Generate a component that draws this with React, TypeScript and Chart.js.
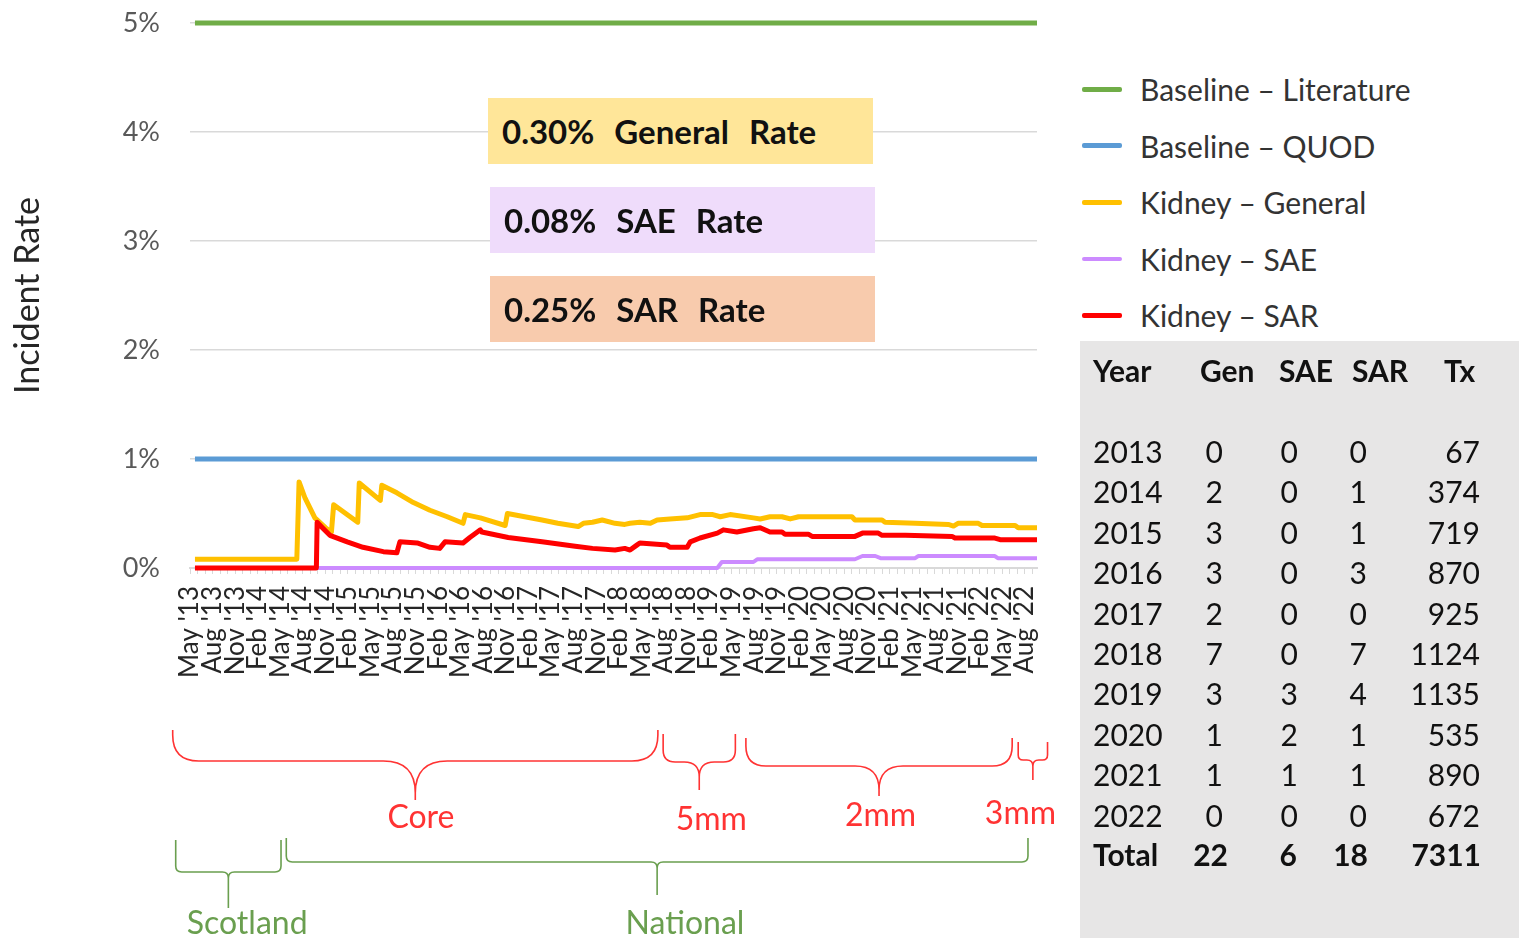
import React, { useEffect, useRef } from "react";
import { Chart, registerables } from "chart.js";

Chart.register(...registerables);

const FONT = "Lato, 'Open Sans', sans-serif";

// ---------- data ----------
// x = months since 1 May 2013
const quarterLabels = [
  "May '13", "Aug '13", "Nov '13",
  "Feb '14", "May '14", "Aug '14", "Nov '14",
  "Feb '15", "May '15", "Aug '15", "Nov '15",
  "Feb '16", "May '16", "Aug '16", "Nov '16",
  "Feb '17", "May '17", "Aug '17", "Nov '17",
  "Feb '18", "May '18", "Aug '18", "Nov '18",
  "Feb '19", "May '19", "Aug '19", "Nov '19",
  "Feb '20", "May '20", "Aug '20", "Nov '20",
  "Feb '21", "May '21", "Aug '21", "Nov '21",
  "Feb '22", "May '22", "Aug '22",
];

const seriesNames = [
  "Baseline – Literature",
  "Baseline – QUOD",
  "Kidney – General",
  "Kidney – SAE",
  "Kidney – SAR",
];

const baselineMonths = [0.66, 112.6];
const literatureRates = [5, 5];
const quodRates = [1, 1];

const generalMonths = [
  0.66, 14.2, 14.5, 15.3, 16.6, 18.0, 18.8, 19.1, 22.3, 22.5, 25.3, 25.5, 27.5, 29.7, 31.9,
  34.2, 36.3, 36.6, 38.6, 41.9, 42.2, 44.5, 46.8, 48.9, 51.6, 52.3, 53.5, 54.8, 56.5, 57.8,
  58.5, 59.8, 61.2, 62.1, 63.8, 66.1, 67.8, 69.5, 70.5, 71.8, 74.9, 75.8, 77.1, 78.7, 79.8,
  80.9, 88.0, 88.4, 92.0, 92.4, 96.4, 100.8, 101.5, 102.1, 104.8, 105.3, 109.7, 110.1, 112.6,
];
const generalRates = [
  0.08, 0.08, 0.79, 0.64, 0.46, 0.37, 0.33, 0.58, 0.42, 0.78, 0.62, 0.76, 0.69, 0.6, 0.53,
  0.47, 0.41, 0.49, 0.46, 0.39, 0.5, 0.47, 0.44, 0.41, 0.38, 0.41, 0.42, 0.44, 0.41, 0.4,
  0.41, 0.42, 0.41, 0.44, 0.45, 0.46, 0.49, 0.49, 0.47, 0.49, 0.46, 0.45, 0.47, 0.47, 0.45,
  0.47, 0.47, 0.44, 0.44, 0.42, 0.41, 0.4, 0.385, 0.41, 0.41, 0.39, 0.39, 0.37, 0.37,
];

const saeMonths = [0.66, 70.1, 70.7, 74.9, 75.4, 88.4, 89.4, 91.1, 91.8, 96.4, 96.8, 107.0, 107.4, 112.6];
const saeRates = [0, 0, 0.055, 0.055, 0.08, 0.08, 0.11, 0.11, 0.09, 0.09, 0.11, 0.11, 0.09, 0.09];

const sarMonths = [
  0.66, 16.8, 16.9, 17.6, 18.6, 20.9, 23.0, 25.7, 27.5, 27.9, 30.2, 31.9, 33.2, 33.9, 36.3,
  37.2, 38.2, 38.6, 38.8, 42.3, 46.8, 51.2, 53.5, 56.5, 57.8, 58.5, 59.4, 59.8, 63.4, 63.8,
  66.1, 66.5, 67.8, 70.1, 70.9, 72.7, 74.9, 75.8, 77.1, 78.7, 79.1, 82.2, 82.7, 88.4, 89.4,
  91.5, 92.0, 95.1, 101.3, 101.7, 107.0, 107.7, 112.6,
];
const sarRates = [
  0, 0, 0.42, 0.37, 0.3, 0.24, 0.19, 0.15, 0.14, 0.24, 0.23, 0.19, 0.18, 0.24, 0.23,
  0.28, 0.33, 0.35, 0.33, 0.28, 0.24, 0.2, 0.18, 0.165, 0.18, 0.165, 0.21, 0.23, 0.21, 0.19,
  0.19, 0.24, 0.275, 0.32, 0.35, 0.33, 0.36, 0.37, 0.33, 0.33, 0.31, 0.31, 0.29, 0.29, 0.32,
  0.32, 0.3, 0.3, 0.29, 0.275, 0.275, 0.26, 0.26,
];

const years = ["2013", "2014", "2015", "2016", "2017", "2018", "2019", "2020", "2021", "2022"];
const genCounts = [0, 2, 3, 3, 2, 7, 3, 1, 1, 0];
const saeCounts = [0, 0, 0, 0, 0, 0, 3, 2, 1, 0];
const sarCounts = [0, 1, 1, 3, 0, 7, 4, 1, 1, 0];
const txCounts = [67, 374, 719, 870, 925, 1124, 1135, 535, 890, 672];

const rateBoxes = [
  { text: "0.30% General Rate", bg: "#FFE699" },
  { text: "0.08% SAE Rate", bg: "#EFDCFB" },
  { text: "0.25% SAR Rate", bg: "#F8CBAD" },
];

// ---------- styles ----------
const GREEN = "#70AD47";
const BLUE = "#5B9BD5";
const YELLOW = "#FFC000";
const PURPLE = "#CC8BFF";
const RED = "#FF0000";
const seriesColors = [GREEN, BLUE, YELLOW, PURPLE, RED];
const seriesWidths = [5, 5, 5, 4, 5];

const BRACE_RED = "#FF3333";
const BRACE_GREEN = "#6A9F4F";

// brace spans in months (x scale units)
const braces = [
  { label: "Core", from: -2.3, to: 62.2, labelAt: 30.7, color: BRACE_RED, top: 730, mid: 761, tip: 800, r1: 26, r2: 32, textY: 818 },
  { label: "5mm", from: 62.9, to: 72.5, labelAt: 69.3, color: BRACE_RED, top: 734, mid: 762, tip: 790, r1: 12, r2: 15, textY: 820 },
  { label: "2mm", from: 73.9, to: 109.3, labelAt: 91.8, color: BRACE_RED, top: 738, mid: 766, tip: 796, r1: 20, r2: 24, textY: 816 },
  { label: "3mm", from: 110.1, to: 114.0, labelAt: 110.4, color: BRACE_RED, top: 742, mid: 760, tip: 780, r1: 5, r2: 6, textY: 814 },
  { label: "Scotland", from: -1.9, to: 12.1, labelAt: 7.6, color: BRACE_GREEN, top: 840, mid: 872, tip: 908, r1: 6, r2: 6, textY: 924 },
  { label: "National", from: 12.8, to: 111.4, labelAt: 65.8, color: BRACE_GREEN, top: 838, mid: 862, tip: 895, r1: 6, r2: 6, textY: 924 },
];

const bracePlugin = {
  id: "braces",
  afterDraw(chart: any) {
    const { ctx } = chart;
    const xs = chart.scales.x;
    ctx.save();
    for (const b of braces) {
      const x1 = xs.getPixelForValue(b.from);
      const x2 = xs.getPixelForValue(b.to);
      const xc = (x1 + x2) / 2;
      const half = (x2 - x1) / 2;
      const r1 = Math.min(b.r1, half / 2);
      const r2 = Math.min(b.r2, half / 2);
      ctx.strokeStyle = b.color;
      ctx.lineWidth = 1.6;
      ctx.beginPath();
      for (const s of [1, -1]) {
        const xe = s === 1 ? x1 : x2;
        ctx.moveTo(xe, b.top);
        ctx.lineTo(xe, b.mid - r1);
        ctx.quadraticCurveTo(xe, b.mid, xe + s * r1, b.mid);
        ctx.lineTo(xc - s * r2, b.mid);
        ctx.quadraticCurveTo(xc, b.mid, xc, Math.min(b.mid + r2, b.tip));
        ctx.lineTo(xc, b.tip);
      }
      ctx.stroke();
      ctx.fillStyle = b.color;
      ctx.font = `32px ${FONT}`;
      ctx.textAlign = "center";
      ctx.textBaseline = "middle";
      ctx.fillText(b.label, xs.getPixelForValue(b.labelAt), b.textY);
    }
    ctx.restore();
  },
};

const pts = (months: number[], rates: number[]) => months.map((m, i) => ({ x: m, y: rates[i] }));

export default function App() {
  const ref = useRef<HTMLCanvasElement>(null);

  useEffect(() => {
    if (!ref.current) return;
    const seriesData = [
      pts(baselineMonths, literatureRates),
      pts(baselineMonths, quodRates),
      pts(generalMonths, generalRates),
      pts(saeMonths, saeRates),
      pts(sarMonths, sarRates),
    ];
    const chart = new Chart(ref.current, {
      type: "line",
      data: {
        datasets: seriesNames.map((name, i) => ({
          label: name,
          data: seriesData[i],
          borderColor: seriesColors[i],
          backgroundColor: seriesColors[i],
          borderWidth: seriesWidths[i],
          pointRadius: 0,
          tension: 0,
          borderJoinStyle: "round" as const,
          fill: false,
          clip: false,
          order: 5 - i,
        })),
      },
      options: {
        responsive: false,
        animation: false,
        layout: { padding: { left: 0, top: 23, right: 43, bottom: 0 } },
        plugins: { legend: { display: false }, tooltip: { enabled: false } },
        scales: {
          x: {
            type: "linear",
            min: 0,
            max: 112.6,
            afterBuildTicks: (s: any) => {
              s.ticks = Array.from({ length: 113 }, (_, i) => ({ value: i }));
            },
            afterFit: (s: any) => {
              s.height = 370;
              s.paddingLeft = 0;
              s.paddingRight = 0;
            },
            ticks: {
              autoSkip: false,
              minRotation: 90,
              maxRotation: 90,
              padding: 12,
              color: "#262626",
              font: { family: FONT, size: 26 },
              callback: (v: any) => {
                const n = Math.round(Number(v));
                return n % 3 === 0 && n / 3 < quarterLabels.length ? quarterLabels[n / 3] : "";
              },
            },
            grid: { drawOnChartArea: false, drawTicks: true, tickLength: 6, color: "#D9D9D9", lineWidth: 1 },
            border: { display: true, color: "#D9D9D9", width: 2 },
          },
          y: {
            min: 0,
            max: 5,
            afterFit: (s: any) => {
              s.width = 190;
              s.paddingTop = 0;
              s.paddingBottom = 0;
            },
            ticks: {
              stepSize: 1,
              padding: 30,
              color: "#595959",
              font: { family: FONT, size: 27 },
              callback: (v: any) => `${v}%`,
            },
            grid: { color: "#D9D9D9", lineWidth: 1.5, drawTicks: false },
            border: { display: false },
            title: {
              display: true,
              text: "Incident Rate",
              color: "#262626",
              font: { family: FONT, size: 34 },
              padding: { top: 8, bottom: 0 },
            },
          },
        },
      },
      plugins: [bracePlugin],
    } as any);
    return () => chart.destroy();
  }, []);

  const rowY = (i: number) => 451 + i * 40.4;
  const cell = (text: any, cy: number, opts: { left?: number; right?: number; bold?: boolean }) => (
    <div
      style={{
        position: "absolute",
        top: cy - 20,
        height: 40,
        lineHeight: "40px",
        left: opts.left,
        right: opts.right !== undefined ? 1519 - opts.right : undefined,
        fontWeight: opts.bold ? 700 : 400,
        whiteSpace: "nowrap",
      }}
    >
      {text}
    </div>
  );
  const sum = (a: number[]) => a.reduce((p, c) => p + c, 0);

  return (
    <div
      style={{
        position: "absolute",
        left: 0,
        top: 0,
        width: 1519,
        height: 938,
        overflow: "hidden",
        background: "#fff",
        fontFamily: FONT,
      }}
    >
      <canvas ref={ref} width={1080} height={938} style={{ position: "absolute", left: 0, top: 0, width: 1080, height: 938 }} />

      {rateBoxes.map((b, i) => (
        <div
          key={b.text}
          style={{
            position: "absolute",
            left: i === 0 ? 488 : 490,
            top: 98 + i * 89,
            width: 385,
            height: 66,
            background: b.bg,
            display: "flex",
            alignItems: "center",
            paddingLeft: 14,
            boxSizing: "border-box",
            fontWeight: 700,
            fontSize: 33,
            wordSpacing: 12,
            color: "#111",
            whiteSpace: "nowrap",
          }}
        >
          {b.text}
        </div>
      ))}

      {seriesNames.map((name, i) => (
        <div key={name}>
          <div
            style={{
              position: "absolute",
              left: 1082,
              top: 89 + i * 56.5 - seriesWidths[i] / 2,
              width: 40,
              height: seriesWidths[i],
              background: seriesColors[i],
              borderRadius: 2,
            }}
          />
          <div
            style={{
              position: "absolute",
              left: 1140,
              top: 89 + i * 56.5 - 20,
              height: 40,
              lineHeight: "40px",
              fontSize: 30,
              color: "#333",
              whiteSpace: "nowrap",
            }}
          >
            {name}
          </div>
        </div>
      ))}

      <div
        style={{
          position: "absolute",
          left: 1080,
          top: 341,
          width: 439,
          height: 597,
          background: "#E7E6E6",
        }}
      />
      <div style={{ position: "absolute", left: 0, top: 0, width: 1519, height: 938, fontSize: 30, color: "#111" }}>
        {cell("Year", 370, { left: 1093, bold: true })}
        {cell("Gen", 370, { left: 1200, bold: true })}
        {cell("SAE", 370, { left: 1279, bold: true })}
        {cell("SAR", 370, { left: 1352, bold: true })}
        {cell("Tx", 370, { left: 1444, bold: true })}
        {years.map((y, i) => (
          <React.Fragment key={y}>
            {cell(y, rowY(i), { left: 1093 })}
            {cell(genCounts[i], rowY(i), { right: 1223 })}
            {cell(saeCounts[i], rowY(i), { right: 1298 })}
            {cell(sarCounts[i], rowY(i), { right: 1367 })}
            {cell(txCounts[i], rowY(i), { right: 1480 })}
          </React.Fragment>
        ))}
        {cell("Total", 854, { left: 1093, bold: true })}
        {cell(sum(genCounts), 854, { right: 1228, bold: true })}
        {cell(sum(saeCounts), 854, { right: 1297, bold: true })}
        {cell(sum(sarCounts), 854, { right: 1368, bold: true })}
        {cell(sum(txCounts), 854, { right: 1481, bold: true })}
      </div>
    </div>
  );
}
